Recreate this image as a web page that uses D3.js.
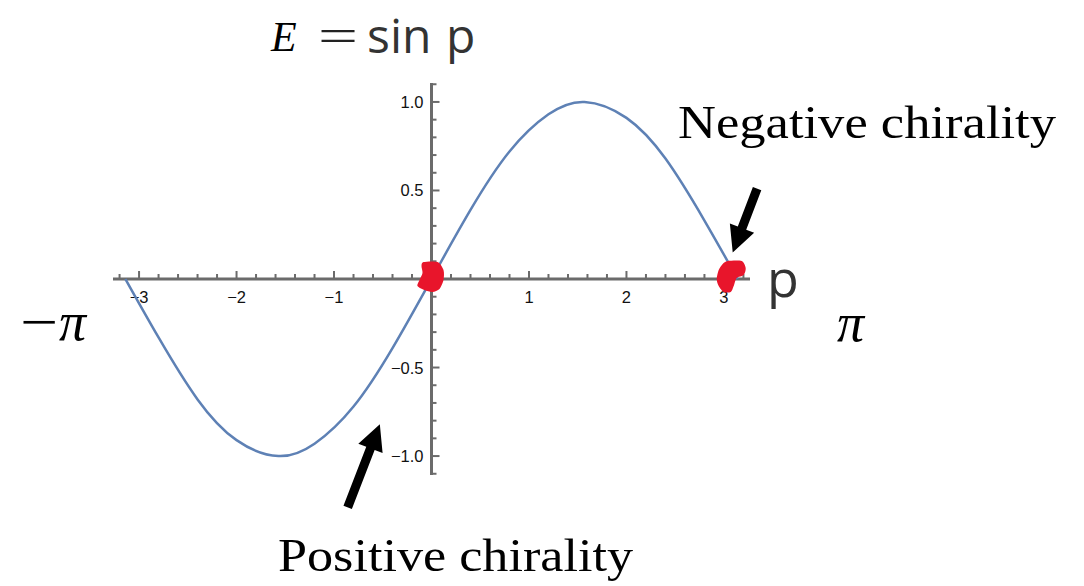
<!DOCTYPE html>
<html>
<head>
<meta charset="utf-8">
<script src="https://cdn.jsdelivr.net/npm/d3@7"></script>
<style>
  html, body { margin: 0; padding: 0; background: #fff; }
  svg { display: block; }
</style>
</head>
<body>
<div id="chart"></div>
<script>
// curve points (p, E)
var curveP = [-3.14, -2.8, -2.4, -2.0, -1.57, -1.2, -0.8, -0.4, 0, 0.4, 0.8, 1.2, 1.57, 2.0, 2.4, 2.8, 3.14];
var curveE = [0, -0.33, -0.68, -0.91, -1.0, -0.93, -0.72, -0.39, 0, 0.39, 0.72, 0.93, 1.0, 0.91, 0.68, 0.33, 0];

// tick labels
var xTicks = [-3, -2, -1, 1, 2, 3];
var yTicks = [-1.0, -0.5, 0.5, 1.0];
var yTickLabels = ['\u22121.0', '\u22120.5', '0.5', '1.0'];

// the red marks (points where the curve crosses zero)
var dotP = [0, 3.1];
var dotE = [0, 0];

// arrows in data space: tail -> tip
var arrowNames = ['Negative chirality', 'Positive chirality'];
var arrowTailP = [3.34, -0.86];
var arrowTailE = [0.51, -1.29];
var arrowTipP = [3.09, -0.53];
var arrowTipE = [0.15, -0.82];

var width = 1084, height = 586;

var svg = d3.select('#chart')
	.append('svg')
		.attr('width', width)
		.attr('height', height)
		.style('background', '#fff');

var x = d3.scaleLinear()
	.domain([-3.2673, 3.2673])
	.range([113, 750]);

var y = d3.scaleLinear()
	.domain([-1.107, 1.107])
	.range([475, 83]);

var axisColor = '#6b6b6b';

// AXES
var axes = svg.append('g').attr('class', 'axes');

axes.append('line')
	.attr('x1', x.range()[0]).attr('x2', x.range()[1])
	.attr('y1', y(0)).attr('y2', y(0))
	.style('stroke', axisColor)
	.style('stroke-width', 3);

axes.append('line')
	.attr('x1', x(0)).attr('x2', x(0))
	.attr('y1', y.range()[0]).attr('y2', y.range()[1])
	.style('stroke', axisColor)
	.style('stroke-width', 3);

// minor ticks
var xMinor = d3.range(-16, 17).filter(d => d % 5 != 0).map(d => d / 5);
var yMinor = d3.range(-11, 12).filter(d => d % 5 != 0).map(d => d / 10);

axes.selectAll('.x-minor')
	.data(xMinor)
	.enter().append('line')
		.attr('x1', d => x(d)).attr('x2', d => x(d))
		.attr('y1', y(0)).attr('y2', y(0) - 5)
		.style('stroke', axisColor)
		.style('stroke-width', 2);

axes.selectAll('.x-major')
	.data(xTicks)
	.enter().append('line')
		.attr('x1', d => x(d)).attr('x2', d => x(d))
		.attr('y1', y(0)).attr('y2', y(0) - 8)
		.style('stroke', axisColor)
		.style('stroke-width', 2);

axes.selectAll('.y-minor')
	.data(yMinor)
	.enter().append('line')
		.attr('x1', x(0)).attr('x2', x(0) + 5)
		.attr('y1', d => y(d)).attr('y2', d => y(d))
		.style('stroke', axisColor)
		.style('stroke-width', 2);

axes.selectAll('.y-major')
	.data(yTicks)
	.enter().append('line')
		.attr('x1', x(0)).attr('x2', x(0) + 8)
		.attr('y1', d => y(d)).attr('y2', d => y(d))
		.style('stroke', axisColor)
		.style('stroke-width', 2);

// tick labels
axes.selectAll('.x-label')
	.data(xTicks)
	.enter().append('text')
		.text(d => d < 0 ? '\u2212' + Math.abs(d) : d)
		.attr('x', d => x(d))
		.attr('y', y(0) + 24)
		.attr('text-anchor', 'middle')
		.style('font-family', 'Liberation Sans, Arial, sans-serif')
		.style('font-size', '16.5px')
		.style('fill', '#111');

axes.selectAll('.y-label')
	.data(yTicks)
	.enter().append('text')
		.text((d, i) => yTickLabels[i])
		.attr('x', x(0) - 8)
		.attr('y', d => y(d) + 6)
		.attr('text-anchor', 'end')
		.style('font-family', 'Liberation Sans, Arial, sans-serif')
		.style('font-size', '16.5px')
		.style('fill', '#111');

// CURVE
var pts = curveP.map((p, i) => [p, curveE[i]]);

var line = d3.line()
	.x(d => x(d[0]))
	.y(d => y(d[1]))
	.curve(d3.curveNatural);

svg.append('path')
	.datum(pts)
	.attr('d', line)
	.style('fill', 'none')
	.style('stroke', '#5e81b5')
	.style('stroke-width', 2.5);

// RED BLOBS (hand drawn look)
var blobShapes = [
	[[-8, -17], [6, -17], [12, -9], [12, 1], [8, 10], [1, 13], [-7, 11], [-14, 7], [-12, 1], [-9, -6], [-10, -13]],
	[[-6, -18], [8, -18], [12, -11], [10, -4], [3, -1], [0, 7], [-3, 13], [-10, 13], [-15, 7], [-17, 0], [-15, -9], [-11, -15]]
];

var blob = d3.line().curve(d3.curveCardinalClosed.tension(0.2));

svg.selectAll('.blob')
	.data(dotP)
	.enter().append('path')
		.attr('class', 'blob')
		.attr('d', (d, i) => blob(blobShapes[i]))
		.attr('transform', (d, i) => `translate(${x(d)},${y(dotE[i])})`)
		.style('fill', '#e8152b');

// ARROWS
function arrowPath(x1, y1, x2, y2){
	var dx = x2 - x1, dy = y2 - y1;
	var len = Math.sqrt(dx * dx + dy * dy);
	var ux = dx / len, uy = dy / len;
	var nx = -uy, ny = ux;
	var shaft = 4.5, head = 13, headLen = 26;
	var bx = x2 - ux * headLen, by = y2 - uy * headLen;
	var p = [
		[x1 + nx * shaft, y1 + ny * shaft],
		[bx + nx * shaft, by + ny * shaft],
		[bx + nx * head, by + ny * head],
		[x2, y2],
		[bx - nx * head, by - ny * head],
		[bx - nx * shaft, by - ny * shaft],
		[x1 - nx * shaft, y1 - ny * shaft]
	];
	return 'M' + p.map(q => q.join(',')).join('L') + 'Z';
}

svg.selectAll('.arrow')
	.data(arrowNames)
	.enter().append('path')
		.attr('class', 'arrow')
		.attr('d', (d, i) => arrowPath(x(arrowTailP[i]), y(arrowTailE[i]), x(arrowTipP[i]), y(arrowTipE[i])))
		.style('fill', '#000');

// TEXT
var serif = 'Liberation Serif, Times New Roman, serif';

svg.append('text')
	.text('Negative chirality')
	.attr('x', 678)
	.attr('y', 138)
	.attr('textLength', 378)
	.attr('lengthAdjust', 'spacingAndGlyphs')
	.style('font-family', serif)
	.style('font-size', '47px')
	.style('fill', '#000');

svg.append('text')
	.text('Positive chirality')
	.attr('x', 278)
	.attr('y', 571)
	.attr('textLength', 355)
	.attr('lengthAdjust', 'spacingAndGlyphs')
	.style('font-family', serif)
	.style('font-size', '47px')
	.style('fill', '#000');

// title E = sin p
svg.append('text')
	.text('E')
	.attr('x', 271)
	.attr('y', 51)
	.style('font-family', serif)
	.style('font-style', 'italic')
	.style('font-size', '42px')
	.style('fill', '#000');

svg.append('text')
	.text('=')
	.attr('x', 318)
	.attr('y', 51)
	.attr('textLength', 40)
	.attr('lengthAdjust', 'spacingAndGlyphs')
	.style('font-family', serif)
	.style('font-size', '46px')
	.style('fill', '#222');

svg.append('text')
	.text('sin')
	.attr('x', 367)
	.attr('y', 53)
	.style('font-family', 'Open Sans, sans-serif')
	.style('font-size', '48px')
	.style('fill', '#333');

svg.append('text')
	.text('p')
	.attr('x', 446)
	.attr('y', 53)
	.style('font-family', 'Open Sans, sans-serif')
	.style('font-size', '48px')
	.style('fill', '#333');

// axis name
svg.append('text')
	.text('p')
	.attr('x', 767)
	.attr('y', 297)
	.style('font-family', 'Open Sans, sans-serif')
	.style('font-size', '52px')
	.style('fill', '#333');

// -pi and pi
svg.append('text')
	.text('\u2212')
	.attr('x', 20)
	.attr('y', 340)
	.attr('textLength', 38)
	.attr('lengthAdjust', 'spacingAndGlyphs')
	.style('font-family', serif)
	.style('font-size', '54px')
	.style('fill', '#000');

svg.append('text')
	.text('\u03c0')
	.attr('x', 59)
	.attr('y', 340)
	.style('font-family', serif)
	.style('font-style', 'italic')
	.style('font-size', '54px')
	.style('fill', '#000');

svg.append('text')
	.text('\u03c0')
	.attr('x', 837)
	.attr('y', 341)
	.style('font-family', serif)
	.style('font-style', 'italic')
	.style('font-size', '54px')
	.style('fill', '#000');
</script>
</body>
</html>
